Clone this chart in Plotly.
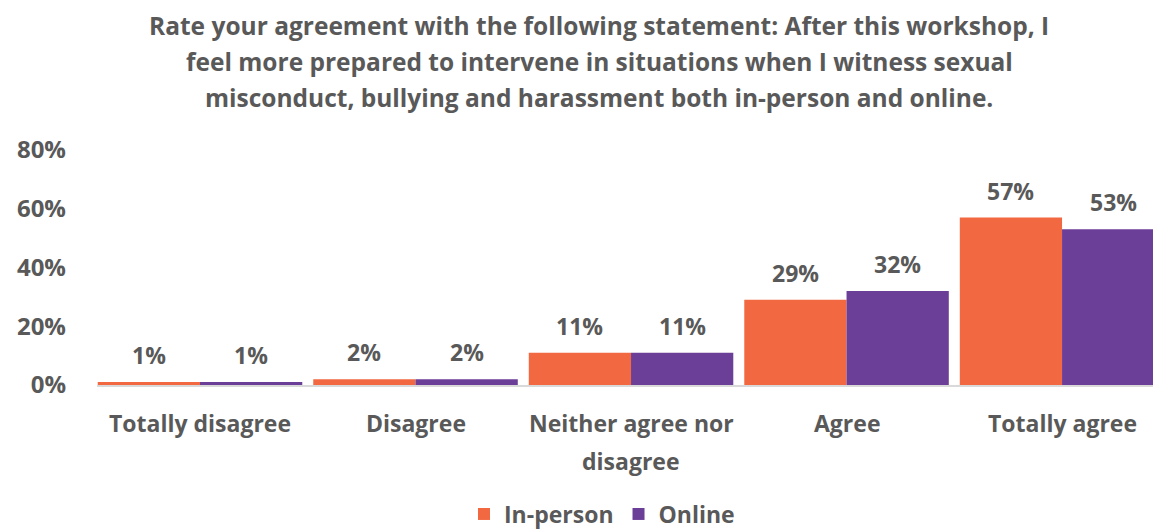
import plotly.graph_objects as go

categories = ["Totally disagree", "Disagree", "Neither agree nor<br>disagree", "Agree", "Totally agree"]
in_person = [1, 2, 11, 29, 57]
online = [1, 2, 11, 32, 53]
y_ticks = [0, 20, 40, 60, 80]
y_tick_labels = ["0%", "20%", "40%", "60%", "80%"]
title_lines = [
    "Rate your agreement with the following statement: After this workshop, I",
    "feel more prepared to intervene in situations when I witness sexual",
    "misconduct, bullying and harassment both in-person and online.",
]

ORANGE = "#F26841"
PURPLE = "#6B3E97"
TEXT = "#595959"
FONT = "Open Sans"

W, H = 1153, 530
M_L, M_R, M_T, M_B = 97, 0, 150, 145
x_pos = list(range(len(categories)))
bargap = 0.051
half = (1 - bargap) / 4  # centre offset of each bar within a group

fig = go.Figure()
fig.add_bar(x=x_pos, y=in_person, name="In-person", marker=dict(color=ORANGE, line=dict(width=0)))
fig.add_bar(x=x_pos, y=online, name="Online", marker=dict(color=PURPLE, line=dict(width=0)))

bold = lambda size: dict(family=FONT, size=size, color=TEXT, weight="bold")

# value labels above each bar
for i in x_pos:
    for val, off in ((in_person[i], -half), (online[i], half)):
        fig.add_annotation(
            x=i + off, y=val, text=f"{val}%", showarrow=False,
            yanchor="middle", yshift=27, font=bold(23),
        )

# category labels under the axis, one line at a time for roomy line spacing
for i, cat in enumerate(categories):
    for j, line in enumerate(cat.split("<br>")):
        fig.add_annotation(
            x=i, y=0, yref="y", text=line, showarrow=False,
            yanchor="middle", yshift=-38 - 38 * j, font=bold(23),
        )

# chart title, three centred lines
title_cx = (599 - M_L) / (W - M_L - M_R)
for j, line in enumerate(title_lines):
    fig.add_annotation(
        x=title_cx, xref="paper", xanchor="center",
        y=1, yref="paper", yanchor="middle", yshift=125 - 36 * j,
        text=line, showarrow=False, font=bold(24.5),
    )

fig.update_layout(
    width=W, height=H,
    margin=dict(l=M_L, r=M_R, t=M_T, b=M_B, autoexpand=False),
    paper_bgcolor="white", plot_bgcolor="white",
    barmode="group", bargap=bargap, bargroupgap=0,
    font=dict(family=FONT, color=TEXT, size=19, weight="bold"),
    showlegend=True,
    legend=dict(
        orientation="h", x=602 / W, xref="container", xanchor="center",
        y=16 / H, yref="container", yanchor="middle",
        font=bold(23), traceorder="normal",
    ),
    xaxis=dict(
        tickmode="array", tickvals=x_pos, showticklabels=False,
        range=[-0.478, 4.422],
        showgrid=False, zeroline=False,
        showline=True, linecolor="#D9D9D9", linewidth=2,
        ticks="",
    ),
    yaxis=dict(
        range=[0, 80], tickmode="array", tickvals=y_ticks, ticktext=y_tick_labels,
        showgrid=False, zeroline=False, showline=False,
        ticks="", ticklabelstandoff=30,
        tickfont=bold(24),
    ),
)

fig.write_html("out.html")
